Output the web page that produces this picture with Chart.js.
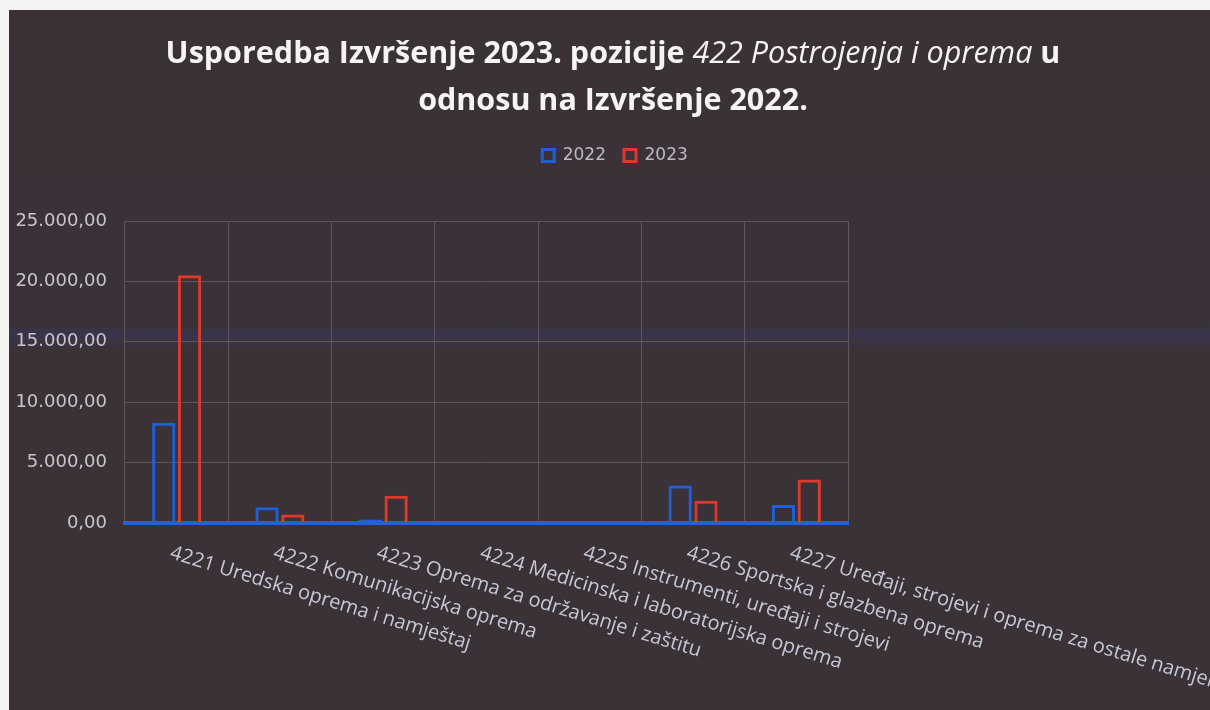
<!DOCTYPE html>
<html>
<head>
<meta charset="utf-8">
<script src="https://cdn.jsdelivr.net/npm/chart.js@4/dist/chart.umd.min.js"></script>
<style>
  html, body { margin: 0; padding: 0; background: #f4f3f1; width: 1210px; height: 710px; overflow: hidden; }
  #bg { position: absolute; left: 9px; top: 10px; width: 1201px; height: 700px;
        background: linear-gradient(to bottom, #3b3238 0px, #3a3238 314px, #393449 322px, #393449 328px, #3b3238 338px, #3b3237 700px); }
  #title { position: absolute; left: 0; top: 28px; width: 1226px; text-align: center;
           font-family: "Open Sans", sans-serif; font-weight: bold; font-size: 30.5px; line-height: 47px; color: #f5f3f6; }
  #title i { font-weight: normal; }
  #wrap { position: absolute; left: 0; top: 0; width: 1230px; height: 710px; }
</style>
</head>
<body>
<div id="bg"></div>
<div id="wrap"><canvas id="c" width="1230" height="710"></canvas></div>
<div id="title">Usporedba Izvršenje 2023. pozicije <i>422 Postrojenja i oprema</i> u<br>odnosu na Izvršenje 2022.</div>
<script>
const categories = [
  "4221 Uredska oprema i namještaj",
  "4222 Komunikacijska oprema",
  "4223 Oprema za održavanje i zaštitu",
  "4224 Medicinska i laboratorijska oprema",
  "4225 Instrumenti, uređaji i strojevi",
  "4226 Sportska i glazbena oprema",
  "4227 Uređaji, strojevi i oprema za ostale namjene"
];
const values2022 = [8300, 1300, 300, 0, 0, 3100, 1500];
const values2023 = [20500, 700, 2250, 0, 0, 1850, 3600];
const seriesNames = ["2022", "2023"];
const yMin = 0, yMax = 25000, yStep = 5000;

function fmt(n) {
  const s = Math.round(n).toString().replace(/\B(?=(\d{3})+(?!\d))/g, ".");
  return s + ",00";
}

const rotatedLabels = {
  id: 'rotatedLabels',
  afterDraw(chart) {
    const ctx = chart.ctx;
    const xs = chart.scales.x;
    const bottom = chart.chartArea.bottom;
    ctx.save();
    ctx.font = '20px "Open Sans", sans-serif';
    ctx.fillStyle = '#c6c8d8';
    ctx.textAlign = 'left';
    ctx.textBaseline = 'top';
    categories.forEach((lab, i) => {
      const x = xs.getPixelForValue(i);
      ctx.save();
      ctx.translate(x - 3, bottom + 20);
      ctx.rotate(17 * Math.PI / 180);
      ctx.fillText(lab, 0, 0);
      ctx.restore();
    });
    ctx.restore();
  }
};

new Chart(document.getElementById('c'), {
  type: 'bar',
  data: {
    labels: categories,
    datasets: [
      { label: seriesNames[0], data: values2022, backgroundColor: 'rgba(0,0,0,0)', borderColor: '#1f60d8', borderWidth: 3 },
      { label: seriesNames[1], data: values2023, backgroundColor: 'rgba(0,0,0,0)', borderColor: '#dc3a2c', borderWidth: 3 }
    ]
  },
  options: {
    responsive: false,
    animation: false,
    devicePixelRatio: 1,
    layout: { padding: { left: 0, top: 129, right: 0, bottom: 0 } },
    datasets: { bar: { categoryPercentage: 0.5, barPercentage: 0.9 } },
    plugins: {
      title: { display: false },
      subtitle: { display: true, text: ' ', weight: 500, font: { size: 1, lineHeight: 1 }, padding: { top: 23, bottom: 23 } },
      tooltip: { enabled: false },
      legend: {
        position: 'top',
        labels: { color: '#bdb9c2', font: { family: '"DejaVu Sans", sans-serif', size: 17 }, boxWidth: 12, boxHeight: 12, padding: 18 }
      }
    },
    scales: {
      x: {
        offset: true,
        grid: { display: true, offset: true, color: '#5e565c', lineWidth: 1, drawTicks: false },
        border: { display: true, color: '#1f62da', width: 4 },
        ticks: { display: false },
        afterFit(s) { s.height = 187; }
      },
      y: {
        min: yMin, max: yMax,
        ticks: { stepSize: yStep, padding: 18, color: '#c9c5cd', font: { family: '"DejaVu Sans", sans-serif', size: 18 }, callback: v => fmt(v) },
        grid: { color: '#5e565c', lineWidth: 1, drawTicks: false },
        border: { display: false },
        afterFit(s) { s.width = 125; }
      },
      y2: {
        position: 'right',
        display: true,
        ticks: { display: false },
        grid: { display: false, drawTicks: false },
        border: { display: false },
        afterFit(s) { s.width = 382; }
      }
    }
  },
  plugins: [rotatedLabels]
});
</script>
</body>
</html>
